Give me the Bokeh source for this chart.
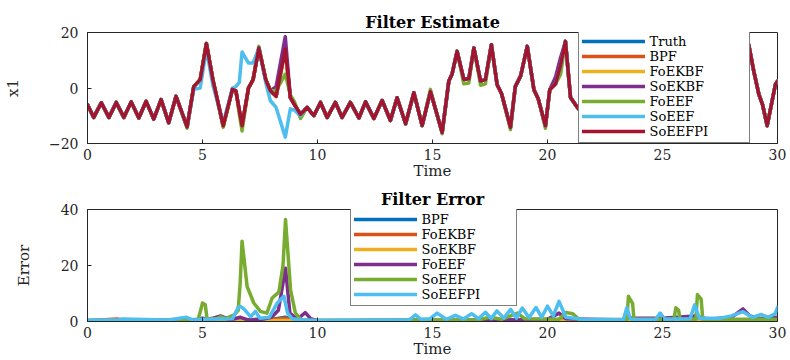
from bokeh.plotting import figure
from bokeh.models import Legend, LegendItem, FixedTicker, Range1d
from bokeh.layouts import column
from bokeh.embed import file_html
from bokeh.resources import INLINE

nan = float("nan")

# ---------------- Filter Estimate (x1 vs Time) ----------------
t_est = [0.00, 0.27, 0.60, 0.93, 1.25, 1.58, 1.90, 2.23, 2.55, 2.88,
         3.20, 3.53, 3.85, 4.33, 4.62, 4.90, 5.17, 5.45, 5.90, 6.30,
         6.45, 6.60, 6.72, 7.00, 7.20, 7.45, 7.75, 7.95, 8.20, 8.60,
         8.82, 9.00, 9.26, 9.55, 9.84, 10.13, 10.42, 10.78, 11.07, 11.43,
         11.80, 12.09, 12.45, 12.81, 13.17, 13.46, 13.83, 14.19, 14.55, 14.91,
         15.42, 15.71, 15.85, 16.07, 16.36, 16.58, 16.80, 17.09, 17.30, 17.56,
         17.81, 18.00, 18.39, 18.60, 18.83, 19.12, 19.41, 19.60, 19.91, 20.10,
         20.35, 20.57, 20.78, 21.00, 21.30, 21.60, 25.00, 28.50, 28.75, 28.97,
         29.19, 29.35, 29.55, 29.91, 30.00]

truth = [-6.0, -10.6, -5.3, -10.6, -5.2, -10.6, -5.0, -10.8, -4.8, -11.2,
         -4.2, -12.5, -3.0, -14.0, 0.5, 3.0, 16.0, 3.0, -13.6, -0.5,
         -1.0, -8.0, -13.6, 0.0, 3.0, 14.4, 3.0, -1.0, -3.0, 14.0,
         -3.5, -6.0, -9.5, -7.0, -10.0, -5.2, -10.6, -5.2, -10.6, -5.2,
         -10.8, -5.0, -11.0, -4.5, -11.7, -3.5, -12.9, -1.7, -13.5, -1.3,
         -16.0, 2.5, 5.0, 13.2, 3.1, 3.3, 14.4, 2.5, 3.0, 15.6,
         1.2, -2.0, -14.2, 0.5, 4.3, 15.0, -0.6, -4.0, -13.6, -0.5,
         1.5, 8.4, 16.8, -3.4, -7.0, -10.0, nan, 8.0, 15.6, 6.0,
         -2.3, -6.0, -13.6, 1.3, 2.5]

bpf = [-6.0, -10.6, -5.3, -10.6, -5.2, -10.6, -5.0, -10.8, -4.8, -11.2,
       -4.2, -12.5, -3.0, -14.0, 0.5, 3.0, 16.0, 3.0, -13.6, -0.5,
       -1.0, -8.0, -13.6, 0.0, 3.0, 14.4, 3.0, -1.0, -3.0, 14.0,
       -3.5, -6.0, -9.5, -7.0, -10.0, -5.2, -10.6, -5.2, -10.6, -5.2,
       -10.8, -5.0, -11.0, -4.5, -11.7, -3.5, -12.9, -1.7, -13.5, -1.3,
       -16.0, 2.5, 5.0, 13.2, 3.1, 3.3, 14.4, 2.5, 3.0, 15.6,
       1.2, -2.0, -14.2, 0.5, 4.3, 15.0, -0.6, -4.0, -13.6, -0.5,
       1.5, 8.4, 16.8, -3.4, -7.0, -10.0, nan, 8.0, 15.6, 6.0,
       -2.3, -6.0, -13.6, 1.3, 2.5]

foekbf = [-6.0, -10.6, -5.3, -10.6, -5.2, -10.6, -5.0, -10.8, -4.8, -11.2,
          -4.2, -12.5, -3.0, -14.0, 0.5, 3.0, 16.0, 3.0, -13.6, -0.5,
          -1.0, -8.0, -13.6, 0.0, 3.0, 14.4, 3.0, -1.0, -3.0, 14.0,
          -3.5, -6.0, -9.5, -7.0, -10.0, -5.2, -10.6, -5.2, -10.6, -5.2,
          -10.8, -5.0, -11.0, -4.5, -11.7, -3.5, -12.9, -1.7, -13.5, -1.3,
          -16.0, 2.5, 5.0, 13.2, 3.1, 3.3, 14.4, 2.5, 3.0, 15.6,
          1.2, -2.0, -14.2, 0.5, 4.3, 15.0, -0.6, -4.0, -13.6, -0.5,
          1.5, 8.4, 16.8, -3.4, -7.0, -10.0, nan, 8.0, 15.6, 6.0,
          -2.3, -6.0, -13.6, 1.3, 2.5]

soekbf = [-6.0, -10.6, -5.3, -10.6, -5.2, -10.6, -5.0, -10.8, -4.8, -11.2,
          -4.2, -12.5, -3.0, -14.0, 0.5, 3.0, 16.0, 3.0, -13.6, -0.5,
          -1.0, -8.0, -13.6, 0.0, 3.0, 14.4, 3.0, -1.0, 0.5, 18.5,
          -3.5, -6.0, -9.5, -7.0, -10.0, -5.2, -10.6, -5.2, -10.6, -5.2,
          -10.8, -5.0, -11.0, -4.5, -11.7, -3.5, -12.9, -1.7, -13.5, -1.3,
          -16.0, 2.5, 5.0, 13.2, 3.1, 3.3, 14.4, 2.5, 3.0, 15.6,
          1.2, -2.0, -14.2, 0.5, 4.3, 15.0, -0.6, -4.0, -13.6, -0.5,
          4.0, 11.0, 16.8, -3.4, -7.0, -10.0, nan, 8.0, 15.6, 6.0,
          -2.3, -6.0, -13.6, 1.3, 2.5]

foeef = [-6.0, -10.6, -5.3, -10.6, -5.2, -10.6, -5.0, -10.8, -4.8, -11.2,
         -4.2, -12.5, -3.0, -14.5, 0.5, 3.0, 16.0, 3.0, -14.2, -0.5,
         -1.0, -9.5, -15.5, 0.0, 3.0, 15.0, 3.0, -1.0, -1.0, 5.0,
         -2.5, -5.0, -11.0, -7.0, -10.0, -5.2, -10.6, -5.2, -10.6, -5.2,
         -10.8, -5.0, -11.0, -4.5, -11.7, -3.5, -12.9, -1.7, -13.5, -0.5,
         -16.5, 2.5, 5.0, 13.2, 1.5, 1.8, 14.4, 1.0, 1.5, 15.6,
         1.2, -2.0, -15.0, 0.5, 4.3, 15.0, -0.6, -4.0, -14.5, -0.5,
         1.5, 5.0, 16.8, -3.4, -7.0, -10.0, nan, 8.0, 15.6, 6.0,
         -2.3, -6.0, -13.6, 1.3, 2.5]

soeef = [-6.0, -10.6, -5.3, -10.6, -5.2, -10.6, -5.0, -10.8, -4.8, -11.2,
         -4.2, -12.5, -3.0, -14.0, -0.5, 0.0, 14.0, 1.0, -12.5, 0.0,
         0.5, 2.0, 13.0, 9.0, 9.0, 14.4, 2.0, -4.6, -7.0, -17.7,
         -7.5, -8.0, -10.0, -7.0, -10.0, -5.2, -10.6, -5.2, -10.6, -5.2,
         -10.8, -5.0, -11.0, -4.5, -11.7, -3.5, -12.9, -1.7, -13.5, -1.3,
         -16.0, 2.5, 5.0, 13.2, 3.1, 3.3, 14.4, 2.5, 3.0, 15.6,
         1.2, -2.0, -14.2, 0.5, 4.3, 15.0, -0.6, -4.0, -13.6, -0.5,
         1.5, 8.4, 16.8, -3.4, -7.0, -10.0, nan, 8.0, 15.6, 6.0,
         -2.3, -6.0, -13.6, 1.3, 2.5]

soeefpi = [-6.0, -10.6, -5.3, -10.6, -5.2, -10.6, -5.0, -10.8, -4.8, -11.2,
           -4.2, -12.5, -3.0, -14.0, 0.5, 3.0, 16.0, 3.0, -13.6, -0.5,
           -1.0, -8.0, -13.6, 0.0, 3.0, 14.4, 3.0, -1.0, -3.0, 14.0,
           -3.5, -6.0, -9.5, -7.0, -10.0, -5.2, -10.6, -5.2, -10.6, -5.2,
           -10.8, -5.0, -11.0, -4.5, -11.7, -3.5, -12.9, -1.7, -13.5, -1.3,
           -16.0, 2.5, 5.0, 13.2, 3.1, 3.3, 14.4, 2.5, 3.0, 15.6,
           1.2, -2.0, -14.2, 0.5, 4.3, 15.0, -0.6, -4.0, -13.6, -0.5,
           1.5, 8.4, 16.8, -3.4, -7.0, -10.0, nan, 8.0, 15.6, 6.0,
           -2.3, -6.0, -13.6, 1.3, 2.5]

est_names = ["Truth", "BPF", "FoEKBF", "SoEKBF", "FoEEF", "SoEEF", "SoEEFPI"]

# ---------------- Filter Error (Error vs Time) ----------------
bpf_err_t = [0, 1, 2, 3, 4, 4.5, 5, 5.5, 6, 6.5, 7, 7.5, 8, 8.6, 9, 10, 12, 14, 16, 18, 20, 22, 24, 26, 28, 30]
bpf_err = [0.4, 0.5, 0.4, 0.5, 0.4, 0.6, 0.8, 0.6, 0.7, 0.9, 0.6, 0.8, 0.7, 1.5, 0.6, 0.4, 0.4, 0.5, 0.4, 0.5,
           0.6, 0.4, 0.5, 0.5, 0.6, 0.5]

foekbf_err_t = [0, 1.3, 1.6, 3, 5, 5.8, 6.2, 8, 8.6, 9, 12, 30]
foekbf_err = [0.3, 0.9, 0.3, 0.3, 0.5, 1.8, 0.5, 0.6, 1.2, 0.4, 0.3, 0.3]

soekbf_err_t = [0, 5, 6.7, 8.6, 10, 20, 30]
soekbf_err = [0.1, 0.2, 0.3, 0.4, 0.1, 0.2, 0.2]

foeef_err_t = [0, 4.8, 5.0, 5.3, 5.78, 6.2, 6.65, 7.0, 7.6, 8.0,
               8.3, 8.61, 8.8, 9.1, 9.3, 9.47, 9.7, 10, 14, 18,
               20.0, 20.5, 20.8, 23.3, 23.5, 23.7, 25, 26.4, 27, 28.0,
               28.5, 28.8, 29.2, 30]
foeef_err = [0.3, 0.4, 1.2, 0.6, 2.0, 0.6, 1.5, 0.5, 0.8, 1.5,
             4.0, 19.0, 3.0, 0.8, 2.0, 3.2, 1.0, 0.3, 0.3, 0.5,
             0.8, 3.0, 1.0, 0.5, 1.5, 1.2, 1.2, 2.0, 0.8, 1.5,
             4.5, 2.0, 1.0, 1.5]

soeef_err_t = [0, 4.8, 4.92, 5.0, 5.12, 5.2, 5.6, 5.8, 6.0, 6.4,
               6.55, 6.64, 6.72, 6.94, 7.23, 7.52, 7.8, 8.03, 8.32, 8.5,
               8.61, 8.83, 9.04, 9.3, 10, 15, 17, 17.5, 18, 18.7,
               19.0, 20.5, 20.8, 21.1, 21.4, 23.45, 23.52, 23.7, 23.76, 25.5,
               25.58, 25.7, 25.76, 26.45, 26.52, 26.68, 26.75, 30]
soeef_err = [0.3, 0.5, 4.0, 6.6, 6.0, 0.8, 1.0, 1.8, 1.0, 2.5,
             4.0, 14.0, 28.7, 12.5, 6.6, 3.6, 3.0, 8.4, 10.5, 20.0,
             36.4, 11.2, 3.0, 0.5, 0.4, 0.5, 0.6, 1.5, 0.8, 3.0,
             1.0, 0.8, 3.2, 2.8, 0.5, 0.8, 9.0, 6.5, 0.8, 0.8,
             4.9, 4.0, 0.8, 0.8, 9.6, 8.0, 0.8, 0.8]

soeefpi_err_t = [0, 1.3, 1.5, 3.5, 4.3, 4.6, 5.0, 6.3, 6.55, 6.65,
                 6.8, 7.09, 7.3, 7.5, 7.9, 8.25, 8.54, 8.7, 8.9, 9.3,
                 10, 13, 14.0, 14.26, 14.5, 14.9, 15.2, 15.6, 16.0, 16.35,
                 16.7, 17.0, 17.3, 17.55, 17.8, 18.1, 18.4, 18.65, 18.9, 19.2,
                 19.5, 19.75, 20.0, 20.25, 20.5, 20.8, 21.5, 23.3, 23.45, 23.6,
                 23.7, 24.7, 24.9, 25.1, 26.2, 26.4, 26.6, 27.5, 28.0, 28.5,
                 28.9, 29.3, 29.6, 29.9, 30]
soeefpi_err = [0.5, 0.5, 0.9, 0.5, 1.5, 0.5, 0.8, 1.0, 5.0, 5.4,
               4.5, 1.7, 3.6, 1.2, 1.5, 6.6, 9.0, 3.0, 1.0, 0.6,
               0.4, 0.5, 0.6, 2.4, 0.8, 1.0, 3.0, 0.8, 2.2, 0.9,
               2.8, 1.0, 3.3, 1.0, 3.8, 1.2, 4.3, 1.2, 4.8, 1.4,
               5.0, 1.5, 5.5, 2.0, 7.2, 1.5, 0.8, 0.6, 4.9, 1.0,
               0.7, 0.7, 3.0, 0.8, 1.0, 6.0, 1.2, 1.2, 2.0, 3.5,
               1.5, 2.5, 1.5, 2.8, 5.0]

err_names = ["BPF", "FoEKBF", "SoEKBF", "FoEEF", "SoEEF", "SoEEFPI"]

x_ticks = [0, 5, 10, 15, 20, 25, 30]
est_y_ticks = [-20, 0, 20]
err_y_ticks = [0, 20, 40]

# ---------------- styling ----------------
COLORS = ["#0072BD", "#D95319", "#EDB120", "#7E2F8E", "#77AC30", "#4DBEEE", "#A2142F"]
FONT = "DejaVu Serif"
INK = "#262626"
LW = 3.5


def style_axis(ax, ticks):
    ax.ticker = FixedTicker(ticks=ticks)
    ax.minor_tick_line_color = None
    ax.major_tick_in = 4
    ax.major_tick_out = 0
    ax.major_tick_line_color = INK
    ax.axis_line_color = INK
    ax.major_label_text_font = FONT
    ax.major_label_text_color = INK
    ax.major_label_text_font_size = "14px"


def make_fig(height, top, bottom, yr, yticks, title, ylabel, ylab_standoff):
    p = figure(width=790, height=height, x_range=Range1d(0, 30), y_range=Range1d(*yr),
               output_backend="svg", toolbar_location=None,
               min_border_left=87, min_border_right=13,
               min_border_top=top, min_border_bottom=bottom)
    p.grid.visible = False
    p.outline_line_color = INK
    p.outline_line_width = 1
    p.background_fill_color = "white"
    p.border_fill_color = "white"
    p.title.text = title
    p.title.align = "center"
    p.title.text_font = FONT
    p.title.text_font_size = "16px"
    p.title.text_font_style = "bold"
    p.title.text_color = "black"
    p.title.standoff = 2

    style_axis(p.xaxis[0], x_ticks)
    style_axis(p.yaxis[0], yticks)
    p.xaxis[0].major_label_standoff = 5
    p.yaxis[0].major_label_standoff = 9
    p.xaxis[0].axis_label = "Time"
    p.yaxis[0].axis_label = ylabel
    for ax, st in ((p.xaxis[0], -1), (p.yaxis[0], ylab_standoff)):
        ax.axis_label_text_font = FONT
        ax.axis_label_text_font_size = "15px"
        ax.axis_label_text_font_style = "normal"
        ax.axis_label_text_color = INK
        ax.axis_label_standoff = st
    return p


def style_legend(leg, label_width):
    leg.border_line_color = "#000000"
    leg.border_line_width = 1
    leg.background_fill_color = "white"
    leg.background_fill_alpha = 1.0
    leg.label_text_font = FONT
    leg.label_text_font_size = "13px"
    leg.label_text_color = "black"
    leg.glyph_width = 63
    leg.glyph_height = 14
    leg.label_height = 14
    leg.label_width = label_width
    leg.label_standoff = 5
    leg.spacing = 0
    leg.padding = 3
    leg.margin = 0


# ---- top: Filter Estimate ----
p1 = make_fig(182, 32, 38, (-20, 20), est_y_ticks, "Filter Estimate", "x1", 24)
est_series = [truth, bpf, foekbf, soekbf, foeef, soeef, soeefpi]
est_r = []
for name, ys, c in zip(est_names, est_series, COLORS):
    r = p1.line(t_est, ys, line_color=c, line_width=LW, line_join="round", line_cap="round")
    est_r.append(r)
leg1 = Legend(items=[LegendItem(label=n, renderers=[r]) for n, r in zip(est_names, est_r)],
              location=(490.5, 0.5))
style_legend(leg1, 96)
p1.add_layout(leg1)

# ---- bottom: Filter Error ----
p2 = make_fig(178, 27, 38, (0, 40), err_y_ticks, "Filter Error", "Error", 25)
err_series = [(bpf_err_t, bpf_err), (foekbf_err_t, foekbf_err), (soekbf_err_t, soekbf_err),
              (foeef_err_t, foeef_err), (soeef_err_t, soeef_err), (soeefpi_err_t, soeefpi_err)]
err_r = []
for name, (ts, ys), c in zip(err_names, err_series, COLORS[:6]):
    r = p2.line(ts, ys, line_color=c, line_width=LW, line_join="round", line_cap="round")
    err_r.append(r)
leg2 = Legend(items=[LegendItem(label=n, renderers=[r]) for n, r in zip(err_names, err_r)],
              location=(262.5, 15.5))
style_legend(leg2, 91)
p2.add_layout(leg2)

layout = column(p1, p2)
open("out.html", "w").write(file_html(layout, INLINE))
